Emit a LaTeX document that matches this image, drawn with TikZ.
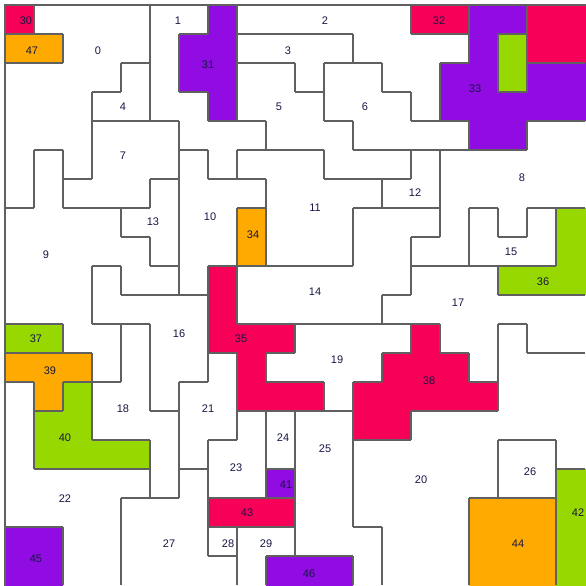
\documentclass[tikz,border=0pt]{standalone}
\usepackage{fontspec}
\setmainfont{Liberation Sans}
\definecolor{cred}{RGB}{246,0,88}
\definecolor{cpur}{RGB}{144,12,226}
\definecolor{corg}{RGB}{255,170,0}
\definecolor{cgrn}{RGB}{151,216,0}
\definecolor{cline}{RGB}{96,96,96}
\definecolor{ctxt}{RGB}{22,22,68}
\def\setrow#1#2{\expandafter\def\csname MRow#1\endcsname{#2}}
\setrow{0}{{30,0,0,0,0,1,1,31,2,2,2,2,2,2,32,32,33,33,48,48}}
\setrow{1}{{47,47,0,0,0,1,31,31,3,3,3,3,2,2,2,2,33,49,48,48}}
\setrow{2}{{0,0,0,0,4,1,31,31,5,5,3,6,6,2,2,33,33,49,33,33}}
\setrow{3}{{0,0,0,4,4,1,1,31,5,5,5,6,6,6,2,33,33,33,33,33}}
\setrow{4}{{0,0,0,7,7,7,1,1,1,5,5,5,6,6,6,6,33,33,8,8}}
\setrow{5}{{0,9,0,7,7,7,10,1,11,11,11,5,5,5,12,8,8,8,8,8}}
\setrow{6}{{0,9,7,7,7,13,10,10,10,11,11,11,11,12,12,8,8,8,8,8}}
\setrow{7}{{9,9,9,9,13,13,10,10,34,11,11,11,14,14,14,8,15,8,15,36}}
\setrow{8}{{9,9,9,9,9,13,10,10,34,11,11,11,14,14,8,8,15,15,15,36}}
\setrow{9}{{9,9,9,16,9,9,10,35,14,14,14,14,14,14,17,17,17,36,36,36}}
\setrow{10}{{9,9,9,16,16,16,16,35,14,14,14,14,14,17,17,17,17,17,17,17}}
\setrow{11}{{37,37,9,9,18,16,16,35,35,35,19,19,19,19,38,17,17,20,17,17}}
\setrow{12}{{39,39,39,9,18,16,16,21,35,19,19,19,19,38,38,38,17,20,20,20}}
\setrow{13}{{22,39,40,18,18,16,21,21,35,35,35,19,38,38,38,38,38,20,20,20}}
\setrow{14}{{22,40,40,18,18,18,21,21,23,24,25,25,38,38,20,20,20,20,20,20}}
\setrow{15}{{22,40,40,40,40,18,21,23,23,24,25,25,20,20,20,20,20,26,26,20}}
\setrow{16}{{22,22,22,22,22,18,27,23,23,41,25,25,20,20,20,20,20,26,26,42}}
\setrow{17}{{22,22,22,22,27,27,27,43,43,43,25,25,20,20,20,20,44,44,44,42}}
\setrow{18}{{45,45,22,22,27,27,27,28,29,29,25,25,25,20,20,20,44,44,44,42}}
\setrow{19}{{45,45,22,22,27,27,27,27,29,46,46,46,25,20,20,20,44,44,44,42}}
\begin{document}
\begin{tikzpicture}[x=1pt,y=-1pt,
  edge/.style={draw=cline,line width=1.2pt,line cap=square},
  lab/.style={text=ctxt,font=\fontsize{11}{13}\selectfont,inner sep=0pt}]
\useasboundingbox (0,0) rectangle (586,586);
\begin{scope}[shift={(5pt,-5pt)},x=29pt,y=-29pt]
  % coloured regions
  \fill[cred] (0,0) rectangle (1,1);
  \fill[corg] (0,1) rectangle (2,2);
  \fill[cpur] (7,0) -- (8,0) -- (8,4) -- (7,4) -- (7,3) -- (6,3) -- (6,1) -- (7,1) -- cycle;
  \fill[cred] (14,0) rectangle (16,1);
  \fill[cpur] (16,0) -- (18,0) -- (18,2) -- (20.1,2) -- (20.1,4) -- (18,4) -- (18,5) -- (16,5) -- (16,4) -- (15,4) -- (15,2) -- (16,2) -- cycle;
  \fill[cgrn] (17,1) rectangle (18,3);
  \fill[cred] (18,0) rectangle (20.1,2);
  \fill[corg] (8,7) rectangle (9,9);
  \fill[cred] (7,9) -- (8,9) -- (8,11) -- (10,11) -- (10,12) -- (9,12) -- (9,13) -- (11,13) -- (11,14) -- (8,14) -- (8,12) -- (7,12) -- cycle;
  \fill[cgrn] (19,7) -- (20.1,7) -- (20.1,10) -- (17,10) -- (17,9) -- (19,9) -- cycle;
  \fill[cgrn] (0,11) rectangle (2,12);
  \fill[cred] (14,11) -- (15,11) -- (15,12) -- (16,12) -- (16,13) -- (17,13) -- (17,14) -- (14,14) -- (14,15) -- (12,15) -- (12,13) -- (13,13) -- (13,12) -- (14,12) -- cycle;
  \fill[corg] (0,12) -- (3,12) -- (3,13) -- (2,13) -- (2,14) -- (1,14) -- (1,13) -- (0,13) -- cycle;
  \fill[cgrn] (2,13) -- (3,13) -- (3,15) -- (5,15) -- (5,16) -- (1,16) -- (1,14) -- (2,14) -- cycle;
  \fill[cpur] (9,16) rectangle (10,17);
  \fill[cgrn] (19,16) rectangle (20.1,20.1);
  \fill[cred] (7,17) rectangle (10,18);
  \fill[corg] (16,17) rectangle (19,20.1);
  \fill[cpur] (0,18) rectangle (2,20.1);
  \fill[cpur] (9,19) rectangle (12,20.1);
  % region boundaries
  \foreach \r in {0,...,19}{
    \expandafter\let\expandafter\currow\csname MRow\r\endcsname
    \pgfmathtruncatemacro\rn{\r+1}
    \ifnum\r<19 \expandafter\let\expandafter\nextrow\csname MRow\rn\endcsname\fi
    \foreach \c in {0,...,19}{
      \pgfmathtruncatemacro\va{\currow[\c]}
      \pgfmathtruncatemacro\cn{\c+1}
      \ifnum\c<19
        \pgfmathtruncatemacro\vb{\currow[\cn]}
        \ifnum\va=\vb\else \draw[edge] (\cn,\r) -- (\cn,\rn);\fi
      \fi
      \ifnum\r<19
        \pgfmathtruncatemacro\vc{\nextrow[\c]}
        \ifnum\va=\vc\else \draw[edge] (\c,\rn) -- (\cn,\rn);\fi
      \fi
    }
  }
  \draw[edge] (0,20.1) -- (0,0) -- (20.1,0);
\end{scope}
% labels
\node[lab] (l0) at (98,51) {0};
\node[lab] (l1) at (178,21) {1};
\node[lab] (l2) at (325,21) {2};
\node[lab] (l3) at (288,51) {3};
\node[lab] (l4) at (123,107) {4};
\node[lab] (l5) at (279,107) {5};
\node[lab] (l6) at (365,107) {6};
\node[lab] (l7) at (123,156) {7};
\node[lab] (l8) at (522,178) {8};
\node[lab] (l9) at (46,255) {9};
\node[lab] (l10) at (210,217) {10};
\node[lab] (l11) at (315,208) {11};
\node[lab] (l12) at (415,193) {12};
\node[lab] (l13) at (153,222) {13};
\node[lab] (l14) at (315,292) {14};
\node[lab] (l15) at (511,252) {15};
\node[lab] (l16) at (179,334) {16};
\node[lab] (l17) at (458,303) {17};
\node[lab] (l18) at (123,409) {18};
\node[lab] (l19) at (337,360) {19};
\node[lab] (l20) at (421,480) {20};
\node[lab] (l21) at (208,409) {21};
\node[lab] (l22) at (65,499) {22};
\node[lab] (l23) at (236,468) {23};
\node[lab] (l24) at (283,438) {24};
\node[lab] (l25) at (325,449) {25};
\node[lab] (l26) at (530,472) {26};
\node[lab] (l27) at (169,544) {27};
\node[lab] (l28) at (228,544) {28};
\node[lab] (l29) at (266,544) {29};
\node[lab] (l30) at (26,21) {30};
\node[lab] (l31) at (208,65) {31};
\node[lab] (l32) at (439,21) {32};
\node[lab] (l33) at (475,89) {33};
\node[lab] (l34) at (253,235) {34};
\node[lab] (l35) at (241,339) {35};
\node[lab] (l36) at (543,282) {36};
\node[lab] (l37) at (36,339) {37};
\node[lab] (l38) at (429,381) {38};
\node[lab] (l39) at (50,371) {39};
\node[lab] (l40) at (65,438) {40};
\node[lab] (l41) at (286,485) {41};
\node[lab] (l42) at (578,513) {42};
\node[lab] (l43) at (247,513) {43};
\node[lab] (l44) at (518,544) {44};
\node[lab] (l45) at (36,559) {45};
\node[lab] (l46) at (309,574) {46};
\node[lab] (l47) at (32,51) {47};
\end{tikzpicture}
\end{document}
